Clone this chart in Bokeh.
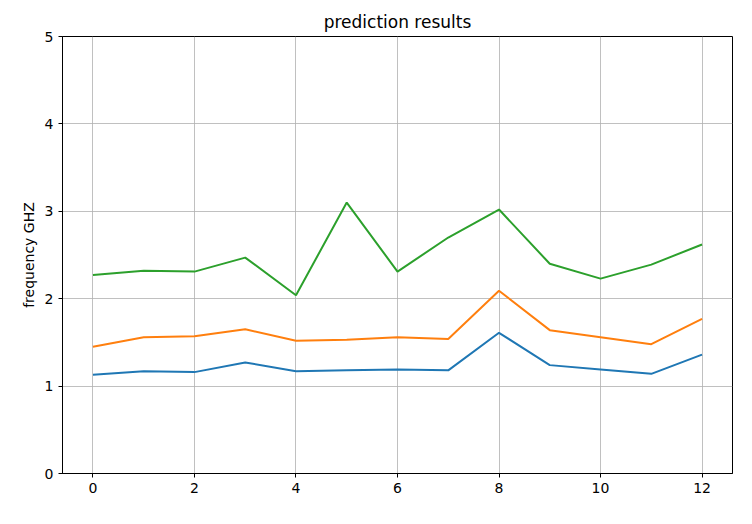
from bokeh.plotting import figure
from bokeh.models import Range1d, FixedTicker
from bokeh.embed import file_html
from bokeh.resources import INLINE

x = list(range(13))
blue = [1.13, 1.17, 1.16, 1.27, 1.17, 1.18, 1.19, 1.18, 1.61, 1.24, 1.19, 1.14, 1.36]
orange = [1.45, 1.56, 1.57, 1.65, 1.52, 1.53, 1.56, 1.54, 2.09, 1.64, 1.56, 1.48, 1.77]
green = [2.27, 2.32, 2.31, 2.47, 2.04, 3.10, 2.31, 2.70, 3.02, 2.40, 2.23, 2.39, 2.62]

p = figure(frame_width=670, frame_height=437, min_border_left=62, min_border_top=36,
           min_border_right=4, min_border_bottom=35,
           x_range=Range1d(-0.6, 12.6), y_range=Range1d(0, 5),
           title="prediction results", output_backend="svg", toolbar_location=None)
p.title.align = "center"
p.title.text_font = "DejaVu Sans"
p.title.text_font_style = "normal"
p.title.text_font_size = "17px"
p.title.text_color = "black"
p.outline_line_color = "black"

p.xaxis.ticker = FixedTicker(ticks=[0, 2, 4, 6, 8, 10, 12])
p.yaxis.ticker = FixedTicker(ticks=[0, 1, 2, 3, 4, 5])
p.yaxis.axis_label = "frequency GHZ"
p.yaxis.axis_label_text_font_style = "normal"
p.yaxis.axis_label_text_font_size = "14px"
for ax in p.xaxis + p.yaxis:
    ax.major_label_text_font = "DejaVu Sans"
    ax.major_label_text_font_size = "14px"
    ax.major_label_text_color = "black"
    ax.axis_label_text_font = "DejaVu Sans"
    ax.axis_label_text_color = "black"
    ax.minor_tick_line_color = None
    ax.major_tick_in = 0
    ax.major_tick_out = 4
    ax.major_tick_line_color = "black"
    ax.axis_line_color = "black"
p.grid.grid_line_color = "#b0b0b0"
p.grid.grid_line_alpha = 0.8

p.line(x, blue, color="#1f77b4", line_width=2)
p.line(x, orange, color="#ff7f0e", line_width=2)
p.line(x, green, color="#2ca02c", line_width=2)

open("out.html", "w").write(file_html(p, INLINE))
